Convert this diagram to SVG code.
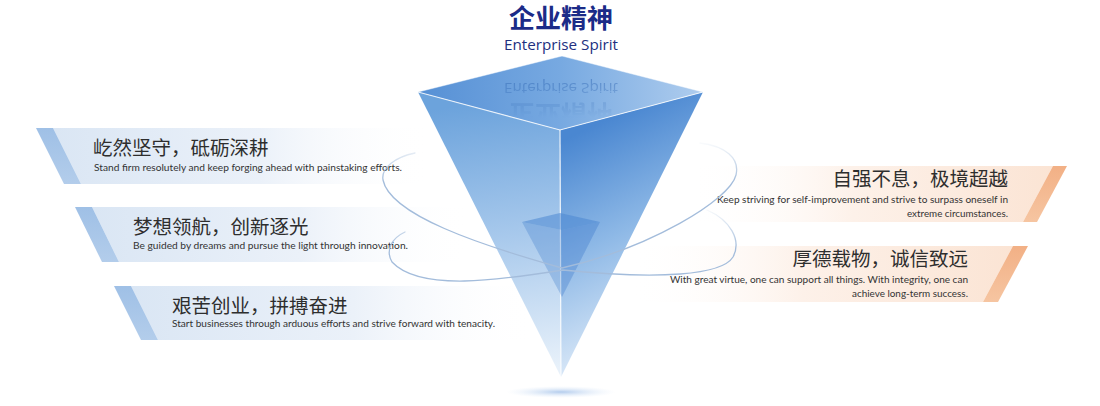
<svg xmlns="http://www.w3.org/2000/svg" width="1100" height="406" viewBox="0 0 1100 406">
<style>
.cn{font-family:"Noto Sans CJK SC","Noto Sans",sans-serif;font-size:19.5px;fill:#2e2e2e}
.en{font-family:Lato,"Liberation Sans",sans-serif;font-size:10.3px;fill:#333333}
.orbit{fill:none;stroke-width:1.3;stroke-linecap:round}
.edge{fill:none;stroke:#ffffff;stroke-width:1.2}
</style>
<defs>
<linearGradient id="gLP" x1="0" y1="0" x2="1" y2="0">
<stop offset="0" stop-color="#dae6f4"/>
<stop offset="0.55" stop-color="#ebf1f9"/>
<stop offset="1" stop-color="#ffffff" stop-opacity="0"/>
</linearGradient>
<linearGradient id="gRP" x1="1" y1="0" x2="0" y2="0">
<stop offset="0" stop-color="#fbe4d4"/>
<stop offset="0.55" stop-color="#fdf1e9"/>
<stop offset="1" stop-color="#ffffff" stop-opacity="0"/>
</linearGradient>
<linearGradient id="gBS" x1="0" y1="0" x2="0" y2="1">
<stop offset="0" stop-color="#9fc0e6"/>
<stop offset="1" stop-color="#b3cdeb"/>
</linearGradient>
<linearGradient id="gPS" x1="0" y1="0" x2="0" y2="1">
<stop offset="0" stop-color="#f2b085"/>
<stop offset="1" stop-color="#f6c5a1"/>
</linearGradient>
<linearGradient id="gTop" gradientUnits="userSpaceOnUse" x1="418" y1="92" x2="703" y2="92">
<stop offset="0" stop-color="#5690d5"/>
<stop offset="0.5" stop-color="#77a9e1"/>
<stop offset="1" stop-color="#afcdee"/>
</linearGradient>
<linearGradient id="gLeft" gradientUnits="userSpaceOnUse" x1="500" y1="100" x2="540" y2="370">
<stop offset="0" stop-color="#6ca3dc"/>
<stop offset="0.5" stop-color="#a8c9ec"/>
<stop offset="1" stop-color="#e8f1fa"/>
</linearGradient>
<linearGradient id="gRight" gradientUnits="userSpaceOnUse" x1="565" y1="140" x2="660" y2="330">
<stop offset="0" stop-color="#4a87d1"/>
<stop offset="0.5" stop-color="#8db8e6"/>
<stop offset="1" stop-color="#d8e7f7"/>
</linearGradient>
<radialGradient id="gShadow" cx="0.5" cy="0.5" r="0.5">
<stop offset="0" stop-color="#b3cced"/>
<stop offset="1" stop-color="#e4eefa" stop-opacity="0"/>
</radialGradient>
<linearGradient id="gO1" gradientUnits="userSpaceOnUse" x1="0" y1="140" x2="0" y2="182">
<stop offset="0" stop-color="#a9c1dd" stop-opacity="0"/>
<stop offset="1" stop-color="#a3bcdb"/>
</linearGradient>
<linearGradient id="gO2" gradientUnits="userSpaceOnUse" x1="0" y1="206" x2="0" y2="248">
<stop offset="0" stop-color="#a9c1dd" stop-opacity="0"/>
<stop offset="1" stop-color="#a3bcdb"/>
</linearGradient>
<linearGradient id="gRefl" gradientUnits="userSpaceOnUse" x1="0" y1="80" x2="0" y2="118">
<stop offset="0" stop-color="#ffffff"/>
<stop offset="1" stop-color="#000000"/>
</linearGradient>
<mask id="mRefl" maskUnits="userSpaceOnUse" x="480" y="60" width="170" height="75">
<rect x="480" y="60" width="170" height="75" fill="url(#gRefl)"/>
</mask>
</defs>

<rect width="1100" height="406" fill="#ffffff"/>

<g id="title">
<text x="561" y="28" text-anchor="middle" style="font-family:'Noto Sans CJK SC','Noto Sans',sans-serif;font-size:26px;font-weight:700;fill:#1b2b88">企业精神</text>
<text x="561" y="50" text-anchor="middle" textLength="114" lengthAdjust="spacingAndGlyphs" style="font-family:'Open Sans','Noto Sans',sans-serif;font-size:14.5px;fill:#22307f">Enterprise Spirit</text>
</g>

<g id="panel-1">
<polygon points="53,128 430,128 430,184 81,184" fill="url(#gLP)"/>
<polygon points="36,128 53,128 81,184 64,184" fill="url(#gBS)"/>
<text class="cn" x="93" y="155">屹然坚守，砥砺深耕</text>
<text class="en" x="94" y="171" textLength="308" lengthAdjust="spacingAndGlyphs">Stand firm resolutely and keep forging ahead with painstaking efforts.</text>
</g>

<g id="panel-2">
<polygon points="92,207 470,207 470,262 119,262" fill="url(#gLP)"/>
<polygon points="75,207 92,207 119,262 102,262" fill="url(#gBS)"/>
<text class="cn" x="133" y="233.5">梦想领航，创新逐光</text>
<text class="en" x="133" y="249" textLength="275" lengthAdjust="spacingAndGlyphs">Be guided by dreams and pursue the light through innovation.</text>
</g>

<g id="panel-3">
<polygon points="131,286 535,286 535,340 158,340" fill="url(#gLP)"/>
<polygon points="114,286 131,286 158,340 141,340" fill="url(#gBS)"/>
<text class="cn" x="172" y="312.5">艰苦创业，拼搏奋进</text>
<text class="en" x="172" y="327" textLength="323" lengthAdjust="spacingAndGlyphs">Start businesses through arduous efforts and strive forward with tenacity.</text>
</g>

<g id="panel-4">
<polygon points="690,166 1053,166 1023,222 690,222" fill="url(#gRP)"/>
<polygon points="1053,166 1067,166 1037,222 1023,222" fill="url(#gPS)"/>
<text class="cn" x="1008" y="186" text-anchor="end">自强不息，极境超越</text>
<text class="en" x="1008" y="203" text-anchor="end" textLength="291" lengthAdjust="spacingAndGlyphs">Keep striving for self-improvement and strive to surpass oneself in</text>
<text class="en" x="1008" y="217" text-anchor="end" textLength="101" lengthAdjust="spacingAndGlyphs">extreme circumstances.</text>
</g>

<g id="panel-5">
<polygon points="630,246 1013,246 983,302 630,302" fill="url(#gRP)"/>
<polygon points="1013,246 1028,246 998,302 983,302" fill="url(#gPS)"/>
<text class="cn" x="968" y="266" text-anchor="end">厚德载物，诚信致远</text>
<text class="en" x="968" y="283" text-anchor="end" textLength="298" lengthAdjust="spacingAndGlyphs">With great virtue, one can support all things. With integrity, one can</text>
<text class="en" x="968" y="297" text-anchor="end" textLength="116" lengthAdjust="spacingAndGlyphs">achieve long-term success.</text>
</g>

<g id="pyramid">
<ellipse cx="561" cy="392" rx="55" ry="6" fill="url(#gShadow)"/>
<polygon points="418,92 560,130 561,377" fill="url(#gLeft)"/>
<polygon points="560,130 703,92 561,377" fill="url(#gRight)"/>
<polygon points="562,56 703,92 560,130 418,92" fill="url(#gTop)"/>
<g mask="url(#mRefl)" opacity="0.45" fill="#2c63b0">
<g transform="translate(0,133) scale(1,-1)">
<text x="561" y="28" text-anchor="middle" style="font-family:'Noto Sans CJK SC','Noto Sans',sans-serif;font-size:26px;font-weight:700">企业精神</text>
<text x="561" y="50" text-anchor="middle" textLength="114" lengthAdjust="spacingAndGlyphs" style="font-family:'Open Sans','Noto Sans',sans-serif;font-size:14.5px">Enterprise Spirit</text>
</g>
</g>
<polyline class="edge" points="418,92 562,56 703,92" opacity="0.45"/>
<polyline class="edge" points="418,92 560,130 703,92" opacity="0.8"/>
<line class="edge" x1="560" y1="130" x2="561" y2="377" opacity="0.85"/>
<g id="inner-pyramid">
<polygon points="522,222 562,230 562,297" fill="#3d7acb" opacity="0.3"/>
<polygon points="562,230 600,222 562,297" fill="#2f6ec6" opacity="0.3"/>
<polygon points="522,222 560,213 600,222 562,230" fill="#4a87d1" opacity="0.55"/>
</g>
</g>

<g id="orbits">
<path class="orbit" stroke="url(#gO1)" d="M700,143 C725,146 740,158 736,175 C730,200 650,248 562,268 C480,245 390,215 383,180 C381,168 395,157 415,153"/>
<path class="orbit" stroke="url(#gO2)" d="M707,210 C730,220 742,240 733,257 C722,275 660,280 563,270 C500,280 420,292 392,262 C385,250 392,238 405,232"/>
</g>
</svg>
